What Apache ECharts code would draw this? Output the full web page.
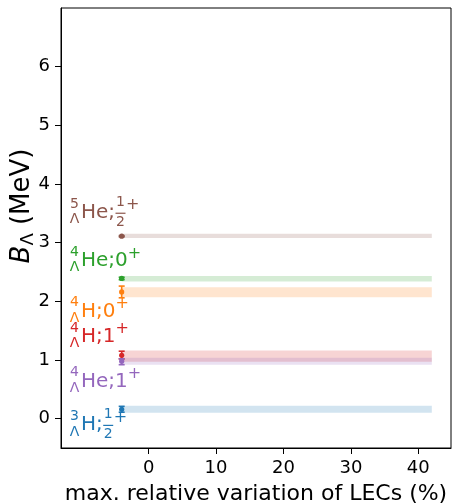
<!DOCTYPE html>
<html><head><meta charset="utf-8">
<script src="https://cdn.jsdelivr.net/npm/echarts@6/dist/echarts.min.js"></script>
<style>html,body{margin:0;padding:0;background:#fff}#c{width:454px;height:504px}</style>
</head><body><div id="c"></div>
<script>
// ---- data ----
const xTicks = [0, 10, 20, 30, 40];
const yTicks = [0, 1, 2, 3, 4, 5, 6];
const massNumbers = [5, 4, 4, 4, 4, 3];
const elements = ['He', 'He', 'H', 'H', 'He', 'H'];
const spins = ['1/2', '0', '0', '1', '1', '1/2'];
const colors = ['#8c564b', '#2ca02c', '#ff7f0e', '#d62728', '#9467bd', '#1f77b4'];
const pointX = -4;
const bandStart = -4;
const bandEnd = 42;
const centralValues = [3.11, 2.39, 2.16, 1.08, 0.98, 0.16];
const errLow  = [3.10, 2.37, 2.06, 1.02, 0.92, 0.11];
const errHigh = [3.12, 2.41, 2.26, 1.15, 1.02, 0.21];
const bandLow  = [3.08, 2.34, 2.07, 0.97, 0.92, 0.10];
const bandHigh = [3.15, 2.43, 2.24, 1.16, 1.04, 0.22];
const labelX = -11.75;
const labelY = [3.51, 2.69, 1.83, 1.40, 0.636, -0.106];

const FONT = '"DejaVu Sans", sans-serif';
const mctx = document.createElement('canvas').getContext('2d');
function tw(t, size) { mctx.font = size + 'px ' + FONT; return mctx.measureText(t).width; }

const bandData = bandLow.map((lo, i) => [bandStart, bandEnd, lo, bandHigh[i]]);
const errData = centralValues.map((v, i) => [pointX, v, errLow[i], errHigh[i]]);
const labelData = labelY.map((y, i) => [labelX, y]);

function txt(x, y, text, size, color, align) {
  return { type: 'text', x: x, y: y, style: { text: text, fill: color, font: size + 'px ' + FONT, align: align || 'left', verticalAlign: 'middle' } };
}

const chart = echarts.init(document.getElementById('c'), null, { renderer: 'canvas' });
chart.setOption({
  animation: false,
  backgroundColor: '#fff',
  grid: { left: 61, right: 3, top: 8, bottom: 56, show: true, borderColor: '#000', borderWidth: 1, containLabel: false, outerBoundsMode: 'none' },
  xAxis: {
    type: 'value', min: -13, max: 44.85,
    name: 'max. relative variation of LECs (%)', nameLocation: 'middle', nameGap: 35,
    nameTextStyle: { fontFamily: FONT, fontSize: 22, color: '#000' },
    axisLine: { show: true, onZero: false, lineStyle: { color: '#000', width: 1 } },
    axisTick: { show: true, length: 6, lineStyle: { color: '#000' }, customValues: xTicks },
    axisLabel: { fontFamily: FONT, fontSize: 18, color: '#000', margin: 11, customValues: xTicks },
    splitLine: { show: false }
  },
  yAxis: {
    type: 'value', min: -0.5, max: 7,
    axisLine: { show: true, onZero: false, lineStyle: { color: '#000', width: 1 } },
    axisTick: { show: true, length: 6, lineStyle: { color: '#000' }, customValues: yTicks },
    axisLabel: { fontFamily: FONT, fontSize: 18, color: '#000', margin: 11, customValues: yTicks },
    splitLine: { show: false }
  },
  graphic: [{
    type: 'text', x: 22, y: 206, rotation: Math.PI / 2,
    style: {
      text: '{i|B}{s|Λ}{n| (MeV)}', align: 'center', verticalAlign: 'middle',
      rich: {
        i: { fontFamily: FONT, fontSize: 26, fontStyle: 'italic', fill: '#000', color: '#000' },
        s: { fontFamily: FONT, fontSize: 18, fill: '#000', color: '#000', padding: [13, 0, 0, 0] },
        n: { fontFamily: FONT, fontSize: 26, fill: '#000', color: '#000' }
      }
    }
  }],
  series: [
    {
      type: 'custom', name: 'bands', data: bandData, clip: true, z: 2,
      renderItem: function (params, api) {
        const p0 = api.coord([api.value(0), api.value(3)]);
        const p1 = api.coord([api.value(1), api.value(2)]);
        return { type: 'rect', shape: { x: p0[0], y: p0[1], width: p1[0] - p0[0], height: p1[1] - p0[1] },
          style: { fill: colors[params.dataIndex], opacity: 0.2 } };
      }
    },
    {
      type: 'custom', name: 'points', data: errData, clip: false, z: 3,
      renderItem: function (params, api) {
        const c = colors[params.dataIndex];
        const pm = api.coord([api.value(0), api.value(1)]);
        const pl = api.coord([api.value(0), api.value(2)]);
        const ph = api.coord([api.value(0), api.value(3)]);
        const x = pm[0];
        const ls = { stroke: c, lineWidth: 1.6 };
        return { type: 'group', children: [
          { type: 'line', shape: { x1: x, y1: pl[1], x2: x, y2: ph[1] }, style: ls },
          { type: 'line', shape: { x1: x - 3, y1: pl[1], x2: x + 3, y2: pl[1] }, style: ls },
          { type: 'line', shape: { x1: x - 3, y1: ph[1], x2: x + 3, y2: ph[1] }, style: ls },
          { type: 'circle', shape: { cx: x, cy: pm[1], r: 2.6 }, style: { fill: c } }
        ] };
      }
    },
    {
      type: 'custom', name: 'labels', data: labelData, clip: false, z: 4,
      renderItem: function (params, api) {
        const i = params.dataIndex;
        const c = colors[i];
        const p = api.coord([api.value(0), api.value(1)]);
        const x = p[0], y = p[1];
        const ch = [];
        ch.push(txt(x + 5, y - 8.5, String(massNumbers[i]), 14, c, 'center'));
        ch.push(txt(x + 5, y + 7, 'Λ', 14, c, 'center'));
        const main = elements[i] + ';';
        ch.push(txt(x + 11.5, y, main, 20, c));
        let cx = x + 11.5 + tw(main, 20);
        if (spins[i] === '1/2') {
          const fx = cx + 5.5;
          ch.push(txt(fx, y - 10.5, '1', 14, c, 'center'));
          ch.push({ type: 'line', shape: { x1: fx - 5, y1: y + 0.5, x2: fx + 5, y2: y + 0.5 }, style: { stroke: c, lineWidth: 1.2 } });
          ch.push(txt(fx, y + 9.5, '2', 14, c, 'center'));
          cx = fx + 5.5;
        } else {
          ch.push(txt(cx, y, spins[i], 20, c));
          cx += tw(spins[i], 20);
        }
        ch.push(txt(cx, y - 7.5, '+', 16, c));
        return { type: 'group', children: ch };
      }
    }
  ]
});
</script></body></html>
